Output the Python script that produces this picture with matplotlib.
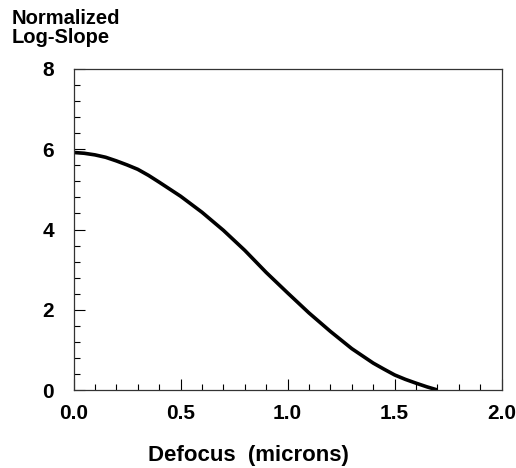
import matplotlib
matplotlib.use("Agg")
import matplotlib.pyplot as plt
from matplotlib.ticker import MultipleLocator

# Curve values
defocus = [0.0, 0.05, 0.1, 0.15, 0.2, 0.25, 0.3, 0.35, 0.4, 0.5, 0.6, 0.7,
           0.8, 0.9, 1.0, 1.1, 1.2, 1.3, 1.4, 1.45, 1.5, 1.55, 1.6, 1.65, 1.7]
log_slope = [5.92, 5.90, 5.86, 5.80, 5.71, 5.61, 5.50, 5.35, 5.18, 4.83,
             4.43, 3.98, 3.48, 2.93, 2.42, 1.92, 1.46, 1.03, 0.67, 0.52,
             0.375, 0.265, 0.17, 0.08, 0.0]

x_ticks = [0.0, 0.5, 1.0, 1.5, 2.0]
y_ticks = [0, 2, 4, 6, 8]

plt.rcParams["font.family"] = ["Liberation Sans", "DejaVu Sans"]
plt.rcParams["font.weight"] = "bold"

fig = plt.figure(figsize=(5.16, 4.68), dpi=100)
ax = fig.add_axes([73.5 / 516, 1 - 390 / 468, (501.7 - 73.5) / 516, (390 - 69) / 468])

ax.plot(defocus, log_slope, color="black", lw=2.6, solid_capstyle="butt")

ax.set_xlim(0, 2.0)
ax.set_ylim(0, 8)
ax.set_xticks(x_ticks)
ax.set_yticks(y_ticks)
ax.set_xticklabels([f"{v:.1f}" for v in x_ticks])
ax.set_yticklabels([str(v) for v in y_ticks])
ax.xaxis.set_minor_locator(MultipleLocator(0.1))
ax.yaxis.set_minor_locator(MultipleLocator(0.4))
ax.tick_params(which="major", direction="in", length=8, width=0.8, labelsize=15)
ax.tick_params(which="minor", direction="in", length=4, width=0.8)
ax.tick_params(axis="x", pad=10)
ax.tick_params(axis="y", pad=14)
for s in ax.spines.values():
    s.set_linewidth(0.9)
    s.set_color("#333333")

fig.text(248 / 516, 1 - 455 / 468, "Defocus  (microns)",
         ha="center", va="center", fontsize=16, fontweight="bold")
fig.text(12 / 516, 1 - 28 / 468, "Normalized\nLog-Slope", ha="left", va="center",
         fontsize=14.5, fontweight="bold", linespacing=1.0)

fig.savefig("out.png", dpi=100)
